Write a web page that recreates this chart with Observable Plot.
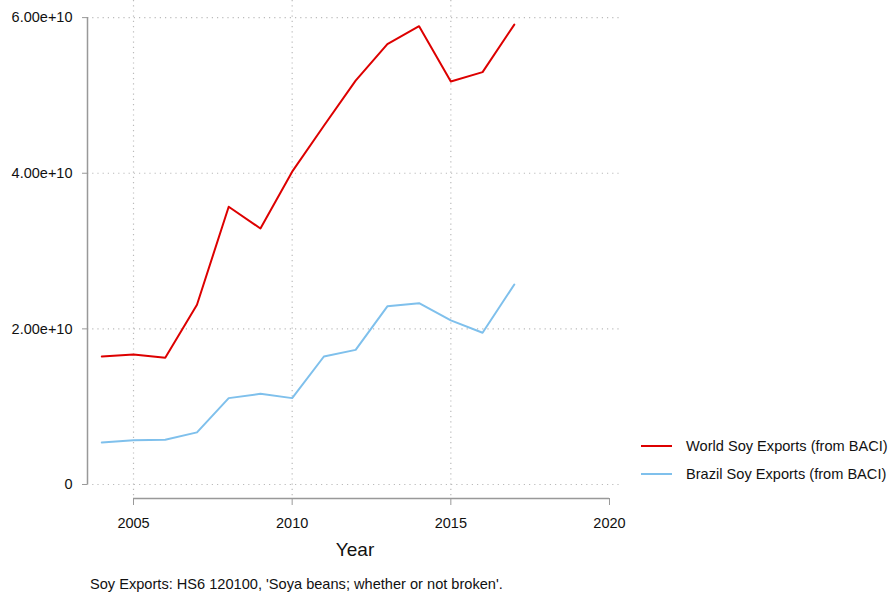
<!DOCTYPE html>
<html>
<head>
<meta charset="utf-8">
<script src="https://cdn.jsdelivr.net/npm/d3@7"></script>
<script src="https://cdn.jsdelivr.net/npm/@observablehq/plot@0.6"></script>
<style>
  body { margin: 0; background: #fff; font-family: "Liberation Sans", Arial, sans-serif; }
  #wrap { position: relative; width: 890px; height: 600px; }
  #legend { position: absolute; left: 641px; top: 432px; font-size: 14.6px; color: #111; }
  .item { display: flex; align-items: center; height: 28px; }
  .swatch { width: 31px; height: 0; border-top: 2px solid; margin-right: 14px; }
  #caption { position: absolute; left: 90px; top: 576px; font-size: 14.6px; color: #111; }
</style>
</head>
<body>
<div id="wrap">
  <div id="chart"></div>
  <div id="legend"></div>
  <div id="caption"></div>
</div>
<script>
const years = [2004, 2005, 2006, 2007, 2008, 2009, 2010, 2011, 2012, 2013, 2014, 2015, 2016, 2017];
const worldExports = [1.645e10, 1.67e10, 1.63e10, 2.31e10, 3.57e10, 3.29e10, 4.02e10, 4.61e10, 5.19e10, 5.66e10, 5.89e10, 5.18e10, 5.30e10, 5.91e10];
const brazilExports = [0.54e10, 0.57e10, 0.575e10, 0.67e10, 1.11e10, 1.165e10, 1.11e10, 1.645e10, 1.73e10, 2.29e10, 2.33e10, 2.11e10, 1.95e10, 2.57e10];
const seriesNames = ["World Soy Exports (from BACI)", "Brazil Soy Exports (from BACI)"];
const seriesColors = ["#dd0000", "#7fc0ec"];
const yTicks = [0, 2e10, 4e10, 6e10];
const xTicks = [2005, 2010, 2015, 2020];
const xGrid = [2005, 2010, 2015];
const xLabel = "Year";
const captionText = "Soy Exports: HS6 120100, 'Soya beans; whether or not broken'.";

const data = [];
years.forEach((y, i) => {
  data.push({year: y, value: worldExports[i], series: seriesNames[0]});
  data.push({year: y, value: brazilExports[i], series: seriesNames[1]});
});

const xDomain = [2003.55, 2020.41];
const yDomain = [-0.18e10, 6.22e10];
const fmtY = d => d === 0 ? "0" : d3.format(".2e")(d);

const chart = Plot.plot({
  width: 890,
  height: 600,
  marginLeft: 87,
  marginRight: 268,
  marginTop: 0,
  marginBottom: 102,
  style: {fontFamily: "Liberation Sans, Arial, sans-serif", fontSize: "14px", color: "#111", background: "#fff"},
  x: {domain: xDomain},
  y: {domain: yDomain},
  color: {domain: seriesNames, range: seriesColors},
  marks: [
    Plot.ruleY(yTicks, {stroke: "#bbb", strokeDasharray: "1.2,4", strokeWidth: 1.2}),
    Plot.ruleX(xGrid, {stroke: "#bbb", strokeDasharray: "1.2,4", strokeWidth: 1.2}),
    Plot.ruleX([xDomain[0]], {y1: yTicks[0], y2: yTicks[yTicks.length - 1], stroke: "#999", strokeWidth: 1.5}),
    Plot.ruleY([yDomain[0]], {x1: xTicks[0], x2: xTicks[xTicks.length - 1], stroke: "#999", strokeWidth: 1.5}),
    Plot.axisY({ticks: yTicks, tickFormat: fmtY, tickSize: 5, tickPadding: 10, stroke: "#999", label: null, fontSize: 14.5}),
    Plot.axisX({ticks: xTicks, tickFormat: d => String(d), tickSize: 7, tickPadding: 12, stroke: "#999", label: null, fontSize: 14.5}),
    Plot.text([xLabel], {frameAnchor: "bottom", dy: 57, fontSize: 19, fill: "#111"}),
    Plot.line(data, {x: "year", y: "value", z: "series", stroke: "series", strokeWidth: 2})
  ]
});
document.getElementById("chart").appendChild(chart);

const legend = document.getElementById("legend");
seriesNames.forEach((name, i) => {
  const item = document.createElement("div");
  item.className = "item";
  const sw = document.createElement("div");
  sw.className = "swatch";
  sw.style.borderTopColor = seriesColors[i];
  const label = document.createElement("span");
  label.textContent = name;
  item.appendChild(sw);
  item.appendChild(label);
  legend.appendChild(item);
});
document.getElementById("caption").textContent = captionText;
</script>
</body>
</html>
